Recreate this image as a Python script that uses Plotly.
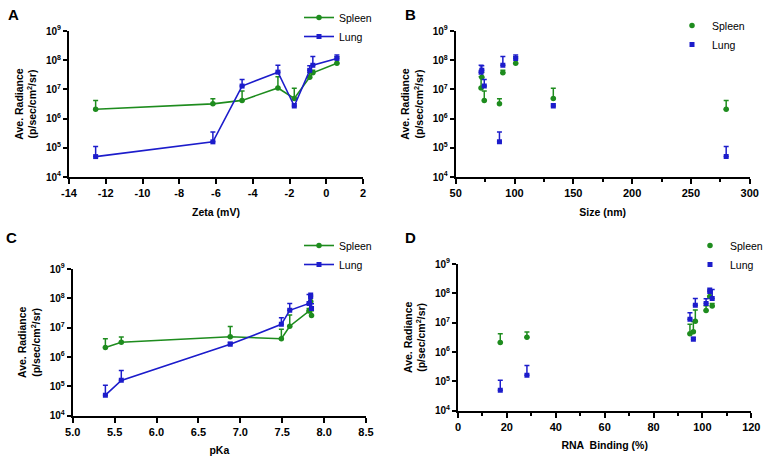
import numpy as np
import plotly.graph_objects as go

# ---- data (8 formulations) ----
zeta = [-12.55, -6.17, -4.58, -2.63, -1.74, -0.90, -0.73, 0.58]
size_nm = [280, 87.2, 74.3, 71.6, 133, 72.2, 90.1, 101]
pka = [5.39, 5.58, 7.49, 7.59, 6.88, 7.85, 7.82, 7.84]
rna_binding = [17.3, 28.2, 94.9, 97.1, 96.3, 101.5, 104.0, 103.0]

spleen = [2.1e6, 3.2e6, 4.2e6, 1.12e7, 4.9e6, 2.6e7, 3.7e7, 7.8e7]
spleen_sem = [2.1e6, 1.6e6, 4.6e6, 1.58e7, 6.1e6, 1.2e7, 8e6, 5.2e7]
lung = [5.0e4, 1.6e5, 1.3e7, 3.9e7, 2.7e6, 4.5e7, 6.7e7, 1.15e8]
lung_sem = [6.0e4, 1.9e5, 9e6, 2.8e7, 5e5, 2.0e7, 6.8e7, 3.5e7]

ytick_vals = [1e4, 1e5, 1e6, 1e7, 1e8, 1e9]
ytick_text = ["10<sup>4</sup>", "10<sup>5</sup>", "10<sup>6</sup>",
              "10<sup>7</sup>", "10<sup>8</sup>", "10<sup>9</sup>"]

zeta_ticks = [-14, -12, -10, -8, -6, -4, -2, 0, 2]
zeta_ticktext = ["-14", "-12", "-10", "-8", "-6", "-4", "-2", "0", "2"]
size_ticks = [50, 100, 150, 200, 250, 300]
pka_ticks = [5.0, 5.5, 6.0, 6.5, 7.0, 7.5, 8.0, 8.5]
pka_ticktext = ["5.0", "5.5", "6.0", "6.5", "7.0", "7.5", "8.0", "8.5"]
rna_ticks = [0, 20, 40, 60, 80, 100, 120]

GREEN = "#1E8C1E"
BLUE = "#1C1CCB"
FONT = "Liberation Sans"
W, H = 766, 459

fig = go.Figure()


def xd(a, b):
    return [a / W, b / W]


def yd(top, bottom):
    return [1 - bottom / H, 1 - top / H]


panels = [
    ("A", zeta, True, (69, 363), (31, 177), [-14, 2], zeta_ticks, zeta_ticktext, None, "Zeta (mV)"),
    ("B", size_nm, False, (455.7, 749.7), (31, 177), [50, 300], size_ticks,
     [str(v) for v in size_ticks], 25, "Size (nm)"),
    ("C", pka, True, (72.7, 366), (269, 415.7), [5.0, 8.5], pka_ticks, pka_ticktext, None, "pKa"),
    ("D", rna_binding, False, (458, 751.3), (264, 410.7), [0, 120], rna_ticks,
     [str(v) for v in rna_ticks], 10, "RNA  Binding (%)"),
]

legend_pos = {
    "A": (299, 3),
    "B": (672, 11),
    "C": (299, 231),
    "D": (690, 231),
}

letter_pos = {"A": (13, 15), "B": (410, 15), "C": (12, 237), "D": (410.5, 237)}

layout = dict(
    width=W, height=H,
    margin=dict(l=0, r=0, t=0, b=0, autoexpand=False),
    paper_bgcolor="white", plot_bgcolor="white",
    font=dict(family=FONT, color="black"),
    showlegend=True,
)

annotations = []

for i, (key, xv, lines, xdp, ydp, xr, tv, tt, minor, xtitle) in enumerate(panels):
    n = i + 1
    xa = "x" if n == 1 else f"x{n}"
    ya = "y" if n == 1 else f"y{n}"
    leg = "legend" if n == 1 else f"legend{n}"
    xv = np.array(xv, dtype=float)
    order = np.argsort(xv) if lines else np.arange(len(xv))
    mode = "lines+markers" if lines else "markers"
    for name, vals, sem, col, sym in [
        ("Spleen", spleen, spleen_sem, GREEN, "circle"),
        ("Lung", lung, lung_sem, BLUE, "square"),
    ]:
        v = np.array(vals)[order]
        s = np.array(sem)[order]
        fig.add_trace(go.Scatter(
            x=xv[order], y=v, mode=mode, name=name,
            xaxis=xa, yaxis=ya, legend=leg,
            line=dict(color=col, width=1.6),
            marker=dict(color=col, symbol=sym, size=5.5 if sym == "circle" else 5),
            error_y=dict(type="data", symmetric=False, array=s,
                         arrayminus=np.zeros(len(s)), color=col,
                         thickness=1.5, width=2.5),
        ))
    xkey = "xaxis" if n == 1 else f"xaxis{n}"
    ykey = "yaxis" if n == 1 else f"yaxis{n}"
    xaxis = dict(
        domain=xd(*xdp), range=xr, anchor=ya, tickmode="array",
        tickvals=tv, ticktext=tt, automargin=False,
        showgrid=False, zeroline=False, showline=True, linecolor="black",
        linewidth=2, ticks="outside", ticklen=5, tickwidth=2, tickcolor="black",
        tickfont=dict(family=FONT, size=11, color="black", weight="bold"),
        title=dict(text="<b>" + xtitle + "</b>",
                   font=dict(family=FONT, size=10.5, color="black"), standoff=10),
    )
    if minor:
        xaxis["minor"] = dict(dtick=minor, tick0=0, ticks="outside", ticklen=3,
                              tickwidth=1.5, tickcolor="black", showgrid=False)
    yaxis = dict(
        domain=yd(*ydp), type="log", range=[4, 9], anchor=xa,
        tickvals=ytick_vals, ticktext=ytick_text, automargin=False,
        showgrid=False, zeroline=False, showline=True, linecolor="black",
        linewidth=2, ticks="outside", ticklen=4, tickwidth=2, tickcolor="black",
        tickfont=dict(family=FONT, size=10, color="black", weight="bold"),
        title=dict(text="<b>Ave. Radiance<br>(p/sec/cm<sup>2</sup>/sr)</b>",
                   font=dict(family=FONT, size=10.5, color="black"), standoff=7),
    )
    layout[xkey] = xaxis
    layout[ykey] = yaxis
    lx, ly = legend_pos[key]
    layout[leg] = dict(
        x=lx / W, y=1 - ly / H, xanchor="left", yanchor="top",
        bgcolor="rgba(0,0,0,0)", itemwidth=30,
        font=dict(family=FONT, size=10.5, color="black"),
        tracegroupgap=0,
    )
    px, py = letter_pos[key]
    annotations.append(dict(
        text="<b>" + key + "</b>", x=px / W, y=1 - py / H, xref="paper", yref="paper",
        showarrow=False, xanchor="center", yanchor="middle",
        font=dict(family=FONT, size=15, color="black"),
    ))

layout["annotations"] = annotations
fig.update_layout(**layout)
fig.write_html(
    "out.html",
    config={"displayModeBar": False},
    post_script="document.body.style.margin='0px';document.body.style.overflow='hidden';",
)
